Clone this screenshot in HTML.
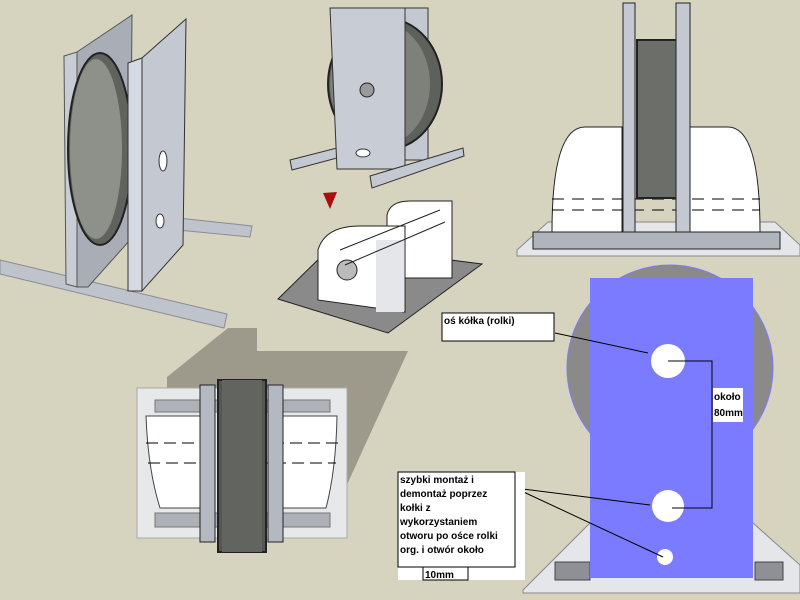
<!DOCTYPE html>
<html><head><meta charset="utf-8"><style>
html,body{margin:0;padding:0;background:#d6d3bf;}
svg{display:block;}
text{font-family:"Liberation Sans",sans-serif;font-weight:bold;font-size:10px;fill:#000;}
</style></head><body>
<svg width="800" height="600" viewBox="0 0 800 600" xmlns="http://www.w3.org/2000/svg">
<rect width="800" height="600" fill="#d6d3bf"/>
<!-- LEFT ASSEMBLY -->
<polygon points="0,260 227,314 224,328 0,274" fill="#bfc3cc" stroke="#8a8d94"/>
<polygon points="178,218 252,226 250,237 178,230" fill="#bfc3cc" stroke="#8a8d94"/>
<polygon points="64,56 77,52 77,287 66,284" fill="#c8ccd4" stroke="#555"/>
<polygon points="77,52 132,15 130,240 88,287 77,287" fill="#a9adb5" stroke="#555"/>
<ellipse cx="100" cy="149" rx="32" ry="96" fill="#60625e" stroke="#222" stroke-width="2"/>
<ellipse cx="96" cy="149" rx="26" ry="90" fill="#8e908a"/>
<polygon points="128,63 142,58 142,291 128,291" fill="#d6dae2" stroke="#333"/>
<polygon points="142,58 186,19 183,245 142,291" fill="#c4c8d0" stroke="#333"/>
<ellipse cx="163" cy="161" rx="4" ry="10" fill="#fff" stroke="#333"/>
<ellipse cx="160" cy="221" rx="4" ry="7" fill="#fff" stroke="#333"/>
<!-- TOP MIDDLE -->
<polygon points="405,8 428,8 428,160 405,160" fill="#c4c8d0" stroke="#333"/>
<ellipse cx="385" cy="84" rx="57" ry="66" fill="#5e605c" stroke="#222" stroke-width="2"/>
<ellipse cx="380" cy="84" rx="50" ry="62" fill="#7e807a"/>
<polygon points="290,160 337,148 337,158 292,170" fill="#c4c8d0" stroke="#333"/>
<polygon points="330,8 405,8 405,169 337,169" fill="#c8ccd4" stroke="#333"/>
<circle cx="367" cy="90" r="7" fill="#9a9a9a" stroke="#222"/>
<ellipse cx="363" cy="153" rx="7" ry="4" fill="#fff" stroke="#333"/>
<polygon points="370,176 463,148 464,156 372,188" fill="#c4c8d0" stroke="#333"/>
<polygon points="323,193 337,192 330,209" fill="#a81010"/>
<!-- MIDDLE LOWER -->
<polygon points="278,299 333,245 482,264 388,333" fill="#8a8a8a" stroke="#222"/>
<path d="M387,278 L387,215 Q390,201 410,201 L452,201 L452,278 Z" fill="#fff" stroke="#222"/>
<path d="M318,300 L318,250 Q325,226 360,226 L405,226 L405,312 Z" fill="#fff" stroke="#222"/>
<circle cx="347" cy="270" r="10" fill="#bbb" stroke="#222"/>
<rect x="376" y="240" width="28" height="72" fill="#e4e6ea"/>
<line x1="340" y1="250" x2="440" y2="210" stroke="#222"/>
<line x1="345" y1="265" x2="445" y2="222" stroke="#222"/>
<!-- SHADOW -->
<polygon points="228,328 257,328 257,351 408,351 340,500 167,500 167,377" fill="#8e8c80" opacity="0.8"/>
<!-- BOTTOM LEFT -->
<rect x="137" y="388" width="210" height="150" fill="#e6e8ea" stroke="#aaa"/>
<rect x="155" y="400" width="175" height="12" fill="#aeb2b8" stroke="#777"/>
<rect x="155" y="513" width="175" height="14" fill="#aeb2b8" stroke="#777"/>
<path d="M146,416 L200,416 L200,508 L160,508 Q148,470 146,416Z" fill="#fff" stroke="#444"/>
<path d="M283,416 L337,416 Q336,470 326,508 L283,508Z" fill="#fff" stroke="#444"/>
<line x1="146" y1="443" x2="340" y2="443" stroke="#000" stroke-dasharray="12,6"/>
<line x1="148" y1="463" x2="336" y2="463" stroke="#000" stroke-dasharray="12,6"/>
<rect x="200" y="385" width="15" height="157" fill="#b4b8c0" stroke="#222"/>
<rect x="268" y="385" width="15" height="157" fill="#b4b8c0" stroke="#222"/>
<rect x="218" y="380" width="48" height="172" fill="#555753" stroke="#222" stroke-width="2"/>
<rect x="222" y="380" width="40" height="172" fill="#62645f"/>
<!-- TOP RIGHT -->
<polygon points="517,250 548,222 775,222 800,245 800,256 517,256" fill="#e4e6ea" stroke="#888"/>
<path d="M552,232 Q552,127 585,127 L622,127 L622,232Z" fill="#fff" stroke="#222"/>
<path d="M690,232 L690,127 L728,127 Q760,127 760,232Z" fill="#fff" stroke="#222"/>
<line x1="552" y1="199" x2="760" y2="199" stroke="#000" stroke-dasharray="12,8"/>
<line x1="552" y1="210" x2="760" y2="210" stroke="#000" stroke-dasharray="12,8"/>
<rect x="637" y="40" width="40" height="158" fill="#6c6e6a" stroke="#222" stroke-width="2"/>
<rect x="623" y="3" width="12" height="229" fill="#c4c8d0" stroke="#222"/>
<rect x="676" y="3" width="14" height="229" fill="#c4c8d0" stroke="#222"/>
<rect x="533" y="232" width="247" height="17" fill="#b0b4bc" stroke="#222"/>
<!-- BOTTOM RIGHT -->
<polygon points="523,590 590,523 753,523 800,565 800,593 523,593" fill="#e4e6ea" stroke="#888"/>
<rect x="555" y="562" width="35" height="18" fill="#8e9096" stroke="#444"/>
<rect x="755" y="562" width="28" height="18" fill="#8e9096" stroke="#444"/>
<circle cx="670" cy="368" r="103" fill="#8a8a8a" stroke="#7b7bff"/>
<rect x="590" y="278" width="163" height="300" fill="#7b7bff"/>
<circle cx="668" cy="361" r="17" fill="#fff"/>
<circle cx="668" cy="506" r="16" fill="#fff"/>
<circle cx="665" cy="557" r="8" fill="#fff"/>
<polyline points="668,361 712,361 712,508 672,508" fill="none" stroke="#000"/>
<line x1="555" y1="333" x2="648" y2="353" stroke="#000"/>
<line x1="515" y1="488" x2="650" y2="505" stroke="#000"/>
<line x1="515" y1="488" x2="663" y2="557" stroke="#000"/>
<rect x="442" y="313" width="112" height="28" fill="#fff" stroke="#000"/>
<text x="444" y="324">oś kółka (rolki)</text>
<rect x="713" y="388" width="30" height="34" fill="#fff"/>
<text x="714" y="400">około</text>
<text x="714" y="416">80mm</text>
<rect x="398" y="472" width="127" height="108" fill="#fff"/>
<rect x="398" y="472" width="117" height="95" fill="none" stroke="#000"/>
<rect x="423" y="567" width="45" height="13" fill="none" stroke="#000"/>
<text x="400" y="483">szybki montaż i</text>
<text x="400" y="497">demontaż poprzez</text>
<text x="400" y="511">kołki z</text>
<text x="400" y="525">wykorzystaniem</text>
<text x="400" y="539">otworu po ośce rolki</text>
<text x="400" y="553">org. i otwór około</text>
<text x="425" y="578">10mm</text>
</svg>
</body></html>
